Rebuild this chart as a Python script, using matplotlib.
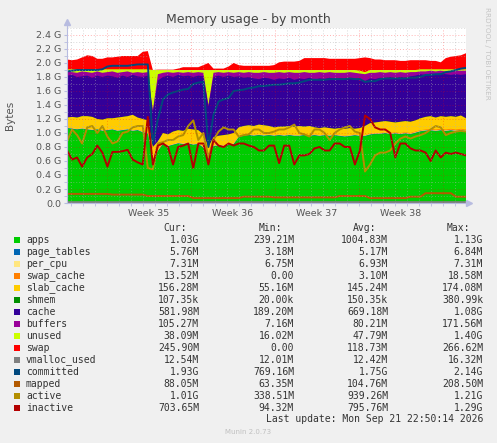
import numpy as np
import matplotlib
matplotlib.use("Agg")
import matplotlib.pyplot as plt
from matplotlib.patches import Rectangle

plt.rcParams['lines.scale_dashes'] = False

# 80 samples across the month (x in hours from graph start)
t = np.linspace(0, 798, 80)

# upper edges of the stacked areas (G)
green_top = [1.08, 1.07, 1.06, 1.07, 1.06, 1.05, 1.06, 1.04, 1.05, 1.06,
             1.04, 1.05, 1.06, 1.04, 1.05, 1.02, 1.00, 0.62, 0.75, 0.85,
             0.82, 0.84, 0.86, 0.85, 0.86, 0.84, 0.85, 0.80, 0.65, 0.82,
             0.83, 0.82, 0.84, 0.85, 0.95, 0.97, 0.98, 0.97, 0.98, 0.97,
             0.98, 0.97, 0.98, 0.97, 0.98, 0.97, 0.97, 0.98, 0.97, 0.98,
             0.97, 0.98, 0.97, 0.98, 0.97, 0.96, 0.97, 0.98, 0.97, 0.97,
             0.99, 1.00, 1.00, 1.01, 1.00, 1.01, 1.00, 1.01, 1.00, 1.02,
             1.04, 1.05, 1.06, 1.05, 1.06, 1.05, 1.06, 1.05, 1.06, 1.05]
slab_top = [1.22, 1.23, 1.22, 1.24, 1.24, 1.23, 1.20, 1.19, 1.21, 1.21,
            1.22, 1.23, 1.24, 1.26, 1.22, 1.20, 1.18, 0.80, 0.88, 1.00,
            0.98, 1.02, 1.04, 1.03, 1.06, 1.05, 1.04, 0.98, 0.80, 0.94,
            0.96, 0.97, 0.98, 1.00, 1.08, 1.10, 1.11, 1.10, 1.12, 1.11,
            1.10, 1.08, 1.09, 1.09, 1.10, 1.09, 1.10, 1.09, 1.10, 1.08,
            1.07, 1.08, 1.07, 1.06, 1.07, 1.06, 1.07, 1.06, 1.07, 1.10,
            1.14, 1.15, 1.16, 1.17, 1.16, 1.15, 1.16, 1.17, 1.16, 1.18,
            1.21, 1.23, 1.24, 1.22, 1.24, 1.23, 1.24, 1.23, 1.25, 1.21]
cache_top = [1.82, 1.83, 1.80, 1.81, 1.82, 1.79, 1.82, 1.80, 1.82, 1.81,
             1.79, 1.82, 1.80, 1.83, 1.81, 1.80, 1.82, 1.30, 1.75, 1.80,
             1.82, 1.80, 1.83, 1.81, 1.82, 1.80, 1.82, 1.81, 1.38, 1.80,
             1.82, 1.80, 1.82, 1.80, 1.81, 1.79, 1.80, 1.78, 1.77, 1.79,
             1.78, 1.76, 1.78, 1.77, 1.79, 1.76, 1.78, 1.77, 1.79, 1.76,
             1.78, 1.77, 1.79, 1.76, 1.78, 1.76, 1.78, 1.77, 1.75, 1.74,
             1.78, 1.77, 1.79, 1.78, 1.80, 1.78, 1.80, 1.79, 1.81, 1.82,
             1.84, 1.83, 1.85, 1.84, 1.85, 1.84, 1.83, 1.84, 1.83, 1.84]
buffers_top = [1.88, 1.87, 1.86, 1.88, 1.87, 1.86, 1.88, 1.86, 1.87, 1.88,
               1.86, 1.87, 1.88, 1.86, 1.87, 1.86, 1.87, 1.32, 1.84, 1.86,
               1.87, 1.86, 1.87, 1.86, 1.87, 1.86, 1.87, 1.86, 1.40, 1.86,
               1.87, 1.86, 1.87, 1.86, 1.87, 1.86, 1.87, 1.86, 1.86, 1.87,
               1.86, 1.86, 1.87, 1.86, 1.87, 1.86, 1.86, 1.87, 1.86, 1.86,
               1.87, 1.86, 1.87, 1.86, 1.86, 1.86, 1.87, 1.86, 1.85, 1.84,
               1.86, 1.86, 1.87, 1.86, 1.87, 1.86, 1.87, 1.86, 1.87, 1.87,
               1.88, 1.88, 1.89, 1.88, 1.89, 1.88, 1.88, 1.89, 1.89, 1.89]
unused_top = [1.91, 1.91, 1.91, 1.91, 1.91, 1.91, 1.91, 1.91, 1.91, 1.91,
              1.91, 1.91, 1.91, 1.91, 1.91, 1.91, 1.91, 1.90, 1.90, 1.90,
              1.90, 1.90, 1.90, 1.90, 1.90, 1.90, 1.90, 1.90, 1.90, 1.90,
              1.90, 1.90, 1.90, 1.90, 1.90, 1.90, 1.90, 1.90, 1.90, 1.90,
              1.90, 1.90, 1.90, 1.90, 1.90, 1.90, 1.90, 1.90, 1.90, 1.90,
              1.90, 1.90, 1.90, 1.90, 1.90, 1.90, 1.90, 1.90, 1.89, 1.87,
              1.90, 1.90, 1.90, 1.90, 1.90, 1.90, 1.90, 1.90, 1.90, 1.90,
              1.91, 1.91, 1.91, 1.91, 1.91, 1.91, 1.91, 1.91, 1.91, 1.91]
swap_top = [2.05, 2.04, 2.05, 2.08, 2.11, 2.10, 2.06, 2.06, 2.08, 2.08,
            2.09, 2.10, 2.10, 2.10, 2.10, 2.16, 2.17, 1.90, 1.905, 1.905,
            1.905, 1.905, 1.92, 1.94, 1.94, 1.94, 1.94, 1.97, 2.00, 1.92,
            1.92, 1.92, 1.95, 2.00, 1.97, 1.96, 1.96, 1.96, 1.96, 1.96,
            1.96, 1.97, 2.01, 2.02, 2.02, 2.02, 2.03, 2.07, 2.07, 2.07,
            2.07, 2.07, 2.06, 2.06, 2.06, 2.06, 2.06, 2.06, 2.07, 2.08,
            2.07, 2.05, 2.05, 2.04, 2.04, 2.04, 2.03, 2.03, 2.04, 2.04,
            2.04, 2.04, 2.03, 2.03, 2.01, 2.07, 2.09, 2.10, 2.11, 2.14]

# thin layers between apps and slab_cache / slab_cache and cache (G)
page_tables = np.repeat([0.0050, 0.0055, 0.0045, 0.0050, 0.0052, 0.0053, 0.0054, 0.0052, 0.0055, 0.0058], 8)
per_cpu = np.repeat([0.0068, 0.0068, 0.0069, 0.0069, 0.0069, 0.0070, 0.0070, 0.0071, 0.0072, 0.0073], 8)
swap_cache = np.repeat([0.001, 0.002, 0.000, 0.000, 0.001, 0.002, 0.003, 0.004, 0.008, 0.0135], 8)
shmem = np.repeat([0.00015, 0.0002, 0.0001, 0.0001, 0.0001, 0.00015, 0.0002, 0.0001, 0.0001, 0.0001], 8)

# line series (G)
committed = [1.88, 1.89, 1.90, 1.90, 1.90, 1.90, 1.90, 1.91, 1.95, 1.96,
             1.96, 1.96, 1.96, 1.97, 1.98, 1.98, 1.98, 0.85, 1.20, 1.48,
             1.55, 1.58, 1.60, 1.62, 1.63, 1.70, 1.72, 1.73, 0.80, 1.26,
             1.45, 1.48, 1.50, 1.60, 1.61, 1.62, 1.64, 1.65, 1.67, 1.67,
             1.68, 1.69, 1.69, 1.70, 1.71, 1.71, 1.72, 1.74, 1.76, 1.76,
             1.76, 1.76, 1.77, 1.77, 1.77, 1.77, 1.78, 1.77, 1.77, 1.73,
             1.74, 1.74, 1.77, 1.78, 1.78, 1.78, 1.78, 1.78, 1.79, 1.79,
             1.80, 1.83, 1.83, 1.84, 1.84, 1.87, 1.88, 1.90, 1.92, 1.93]
active = [0.88, 1.05, 0.97, 0.85, 1.08, 1.10, 1.00, 1.10, 0.95, 0.85,
          0.88, 1.00, 1.02, 1.08, 1.10, 1.10, 0.50, 0.48, 0.85, 0.87,
          0.90, 0.90, 0.95, 0.97, 1.10, 1.18, 0.90, 1.00, 0.65, 0.90,
          1.02, 1.08, 1.05, 1.05, 0.95, 0.97, 0.98, 1.05, 1.05, 1.00,
          1.00, 1.02, 1.05, 1.05, 1.08, 1.12, 1.00, 0.98, 0.95, 1.05,
          1.05, 1.00, 0.90, 1.00, 1.05, 1.08, 1.10, 1.02, 1.00, 0.45,
          0.55, 0.68, 0.72, 0.72, 0.75, 0.85, 0.92, 0.95, 0.92, 0.95,
          0.97, 1.00, 1.05, 1.10, 1.08, 0.97, 1.00, 1.02, 1.03, 1.02]
inactive = [0.75, 0.62, 0.65, 0.52, 0.65, 0.70, 0.82, 0.72, 0.52, 0.73,
            0.73, 0.74, 0.76, 0.62, 0.58, 0.55, 1.23, 0.55, 0.82, 0.85,
            0.80, 0.55, 0.80, 0.82, 0.85, 0.50, 0.85, 0.85, 0.55, 0.90,
            0.82, 0.80, 0.85, 0.82, 0.85, 0.85, 0.82, 0.80, 0.75, 0.75,
            0.82, 0.82, 0.57, 0.82, 0.82, 0.55, 0.68, 0.68, 0.70, 0.78,
            0.80, 0.75, 0.75, 0.85, 0.85, 0.80, 0.80, 0.55, 0.75, 1.25,
            1.20, 1.08, 1.05, 1.05, 1.00, 0.65, 0.85, 0.85, 0.78, 0.75,
            0.75, 0.72, 0.60, 0.75, 0.65, 0.72, 0.70, 0.72, 0.70, 0.68]
mapped = [0.13, 0.13, 0.13, 0.13, 0.13, 0.13, 0.13, 0.13, 0.13, 0.12,
          0.12, 0.12, 0.12, 0.12, 0.12, 0.12, 0.10, 0.10, 0.10, 0.10,
          0.10, 0.10, 0.10, 0.10, 0.10, 0.07, 0.07, 0.07, 0.07, 0.07,
          0.07, 0.07, 0.07, 0.07, 0.07, 0.09, 0.09, 0.09, 0.09, 0.09,
          0.09, 0.08, 0.08, 0.08, 0.08, 0.08, 0.08, 0.08, 0.08, 0.08,
          0.08, 0.08, 0.08, 0.08, 0.10, 0.10, 0.10, 0.10, 0.10, 0.10,
          0.07, 0.07, 0.07, 0.07, 0.07, 0.07, 0.07, 0.07, 0.09, 0.09,
          0.09, 0.14, 0.14, 0.14, 0.14, 0.14, 0.14, 0.09, 0.09, 0.09]
vmalloc_t = [0, 200, 400, 600, 798]
vmalloc_used = [0.0121, 0.0124, 0.0125, 0.0124, 0.0125]

# legend table
names = ['apps', 'page_tables', 'per_cpu', 'swap_cache', 'slab_cache', 'shmem', 'cache', 'buffers',
         'unused', 'swap', 'vmalloc_used', 'committed', 'mapped', 'active', 'inactive']
colors = ['#00CC00', '#0066B3', '#FFE680', '#FF8000', '#FFCC00', '#008F00', '#330099', '#990099',
          '#CCFF00', '#FF0000', '#808080', '#00487D', '#B35A00', '#B38F00', '#B30000']
cur = ['1.03G', '5.76M', '7.31M', '13.52M', '156.28M', '107.35k', '581.98M', '105.27M',
       '38.09M', '245.90M', '12.54M', '1.93G', '88.05M', '1.01G', '703.65M']
mins = ['239.21M', '3.18M', '6.75M', '0.00', '55.16M', '20.00k', '189.20M', '7.16M',
        '16.02M', '0.00', '12.01M', '769.16M', '63.35M', '338.51M', '94.32M']
avgs = ['1004.83M', '5.17M', '6.93M', '3.10M', '145.24M', '150.35k', '669.18M', '80.21M',
        '47.79M', '118.73M', '12.42M', '1.75G', '104.76M', '939.26M', '795.76M']
maxs = ['1.13G', '6.84M', '7.31M', '18.58M', '174.08M', '380.99k', '1.08G', '171.56M',
        '1.40G', '266.62M', '16.32M', '2.14G', '208.50M', '1.21G', '1.29G']

week_pos = [164, 332, 500, 668]
week_labels = ['Week 35', 'Week 36', 'Week 37', 'Week 38']
ytick_vals = [0.0, 0.2, 0.4, 0.6, 0.8, 1.0, 1.2, 1.4, 1.6, 1.8, 2.0, 2.2, 2.4]
ytick_labels = ['0.0'] + ['%.1f G' % v for v in ytick_vals[1:]]

W, H = 497, 443
fig = plt.figure(figsize=(W / 100, H / 100), dpi=100, facecolor='#f0f0f0')
ax = fig.add_axes([67 / W, 1 - 203 / H, 399 / W, 175 / H])
ax.set_facecolor('white')

# the thin layers sit inside the green top; apps itself is green_top minus them
apps_top = np.array(green_top)
apps_only = apps_top - page_tables - per_cpu - swap_cache
tops = [apps_only,
        apps_only + page_tables,
        apps_only + page_tables + per_cpu,
        apps_top,
        np.array(slab_top),
        np.array(slab_top) + shmem,
        np.array(cache_top),
        np.array(buffers_top),
        np.array(unused_top),
        np.array(swap_top)]

# draw from the top layer down, each filled from zero (like rrdtool)
for top, col in reversed(list(zip(tops, colors[:10]))):
    ax.fill_between(t, 0, top, facecolor=col, edgecolor='none', linewidth=0, zorder=2)

ax.plot(vmalloc_t, vmalloc_used, color=colors[10], lw=1.4, zorder=3)
ax.plot(t, committed, color=colors[11], lw=1.4, zorder=3)
ax.plot(t, mapped, color=colors[12], lw=1.4, zorder=3)
ax.plot(t, active, color=colors[13], lw=1.4, zorder=3)
ax.plot(t, inactive, color=colors[14], lw=1.4, zorder=3)

ax.set_xlim(0, 798)
ax.set_ylim(0, 2.5)

# grid on top of the data
for k in range(1, 26):
    y = k * 0.1
    if k % 2 == 0:
        ax.axhline(y, color='#ff0000', alpha=0.35, lw=0.6, ls=(0, (0.7, 1.4)), zorder=4)
    else:
        ax.axhline(y, color='#b0b0b0', alpha=0.55, lw=0.6, ls=(0, (0.7, 1.4)), zorder=4)
day_lines = np.arange(8, 798, 24)
for d in day_lines:
    if (d - 80) % 168 == 0:
        ax.axvline(d, color='#ff0000', alpha=0.35, lw=0.6, ls=(0, (0.7, 1.4)), zorder=4)
    else:
        ax.axvline(d, color='#b0b0b0', alpha=0.55, lw=0.6, ls=(0, (0.7, 1.4)), zorder=4)

axis_col = '#b8bce0'
for s in ['top', 'right']:
    ax.spines[s].set_visible(False)
for s in ['left', 'bottom']:
    ax.spines[s].set_color(axis_col)
    ax.spines[s].set_linewidth(0.8)
    ax.spines[s].set_zorder(5)

ax.set_yticks(ytick_vals)
ax.set_yticklabels(ytick_labels)
ax.set_yticks(np.arange(0.1, 2.5, 0.2), minor=True)
ax.set_xticks(week_pos)
ax.set_xticklabels(week_labels)
ax.set_xticks(day_lines, minor=True)
ax.tick_params(axis='y', which='both', length=2, color=axis_col, labelsize=6.8,
               labelcolor='#555555', pad=2)
ax.tick_params(axis='x', which='major', length=0, labelsize=6.8, labelcolor='#555555', pad=4)
ax.tick_params(axis='x', which='minor', length=2, color=axis_col)

# axis arrows
ax.plot(0, 2.59, marker='^', ms=4, color=axis_col, clip_on=False, zorder=6)
ax.plot(804, 0, marker='>', ms=4, color=axis_col, clip_on=False, zorder=6)
ax.plot([0, 0], [2.5, 2.57], color=axis_col, lw=0.8, clip_on=False)

fig.text(248.5 / W, 1 - 19 / H, 'Memory usage - by month', ha='center', va='center',
         fontsize=9, color='#444444')
fig.text(10 / W, 1 - 115 / H, 'Bytes', rotation=90, ha='center', va='center',
         fontsize=7.5, color='#555555')
fig.text(487 / W, 1 - 53 / H, 'RRDTOOL / TOBI OETIKER', rotation=270, ha='center', va='center',
         fontsize=5.2, color='#c4c4c4')

mono = 'DejaVu Sans Mono'
fs = 7
for txt, xr in zip(['Cur:', 'Min:', 'Avg:', 'Max:'], [187, 282, 376, 470]):
    fig.text(xr / W, 1 - 228 / H, txt, ha='right', va='center', family=mono, fontsize=fs, color='#333333')
for i, name in enumerate(names):
    yc = 240 + 12 * i
    fig.patches.append(Rectangle((14 / W, 1 - (yc + 3) / H), 6 / W, 6 / H,
                                 transform=fig.transFigure, facecolor=colors[i], edgecolor='none'))
    fig.text(26 / W, 1 - yc / H, name, ha='left', va='center', family=mono, fontsize=fs, color='#333333')
    for val, xr in zip([cur[i], mins[i], avgs[i], maxs[i]], [199, 294, 388, 483]):
        fig.text(xr / W, 1 - yc / H, val, ha='right', va='center', family=mono, fontsize=fs, color='#333333')

fig.text(483 / W, 1 - 419 / H, 'Last update: Mon Sep 21 22:50:14 2026', ha='right', va='center',
         family=mono, fontsize=fs, color='#333333')
fig.text(248 / W, 1 - 432 / H, 'Munin 2.0.73', ha='center', va='center', fontsize=5, color='#c0c0c0')

fig.savefig('out.png', dpi=100, facecolor=fig.get_facecolor())
